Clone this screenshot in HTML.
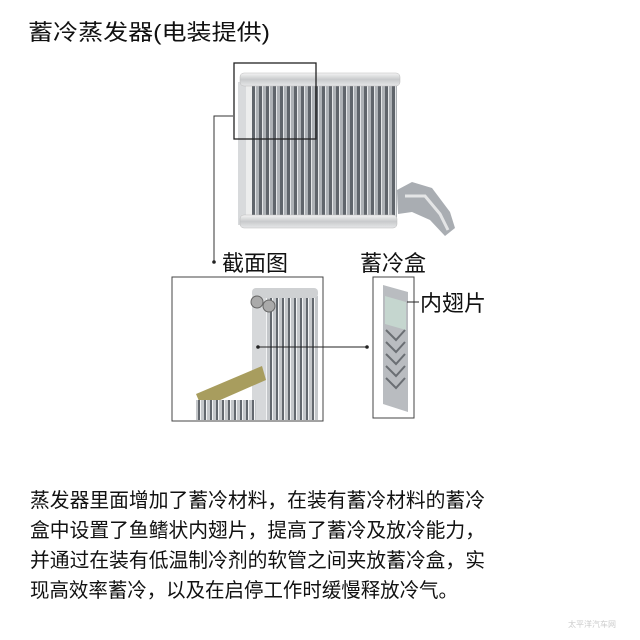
<!DOCTYPE html>
<html><head><meta charset="utf-8"><style>
html,body{margin:0;padding:0;background:#fff;}
svg{display:block;}
text{font-family:"Liberation Sans","Noto Sans CJK SC",sans-serif;fill:#111;}
</style></head><body>
<svg width="640" height="640" viewBox="0 0 640 640" xmlns="http://www.w3.org/2000/svg">
<defs>
<pattern id="fins" width="7" height="10" patternUnits="userSpaceOnUse">
<rect width="7" height="10" fill="#aeb2b6"/>
<rect x="0" width="3" height="10" fill="#60656b"/>
<rect x="3" width="1" height="10" fill="#e4e6e8"/>
</pattern>
<pattern id="fins2" width="6" height="10" patternUnits="userSpaceOnUse">
<rect width="6" height="10" fill="#c4c7ca"/>
<rect x="0" width="2" height="10" fill="#63686e"/>
<rect x="2" width="1" height="10" fill="#f2f3f4"/>
</pattern>
<linearGradient id="rail" x1="0" y1="0" x2="0" y2="1">
<stop offset="0" stop-color="#f4f4f4"/><stop offset="0.5" stop-color="#c8cacc"/><stop offset="1" stop-color="#e6e7e8"/>
</linearGradient>
</defs>

<text x="28" y="40" font-size="22" textLength="242" lengthAdjust="spacingAndGlyphs">蓄冷蒸发器(电装提供)</text>

<rect x="240" y="84" width="157" height="136" fill="url(#fins)"/>
<rect x="238" y="82" width="14" height="143" fill="#d8dadc"/>
<rect x="246" y="82" width="6" height="143" fill="#eceded"/>
<rect x="240" y="73" width="160" height="13" rx="4" fill="url(#rail)" stroke="#bbb" stroke-width="0.5"/>
<rect x="240" y="215" width="157" height="13" rx="4" fill="url(#rail)" stroke="#bbb" stroke-width="0.5"/>
<path d="M397 190 L412 182 L432 188 L450 212 L455 228 L445 236 L430 220 L412 212 L398 214 Z" fill="#a9adb2"/>
<path d="M405 196 L425 196 L440 214 L448 230" stroke="#e4e5e6" stroke-width="3" fill="none"/>
<rect x="234" y="63" width="82" height="76" fill="none" stroke="#222" stroke-width="1.3"/>
<polyline points="233,116 214,116 214,262" fill="none" stroke="#333" stroke-width="1"/>
<circle cx="214" cy="262" r="1.8" fill="#222"/>

<text x="222" y="271" font-size="22">截面图</text>
<text x="360" y="271" font-size="22">蓄冷盒</text>

<rect x="172" y="277" width="151" height="144" fill="#fff" stroke="#444" stroke-width="1"/>
<rect x="252" y="296" width="66" height="124" fill="url(#fins2)"/>
<rect x="252" y="296" width="14" height="124" fill="#d6d8da"/>
<rect x="252" y="288" width="66" height="10" rx="4" fill="#cfd1d3"/>
<circle cx="257" cy="302" r="6" fill="#aaa" stroke="#666"/>
<circle cx="269" cy="306" r="6" fill="#aaa" stroke="#666"/>
<path d="M196 394 L262 366 L266 380 L202 408 Z" fill="#a89d5e"/>
<rect x="196" y="400" width="60" height="20" fill="url(#fins2)"/>
<line x1="258" y1="347" x2="367" y2="347" stroke="#222" stroke-width="1"/>
<circle cx="258" cy="347" r="1.8" fill="#222"/>
<circle cx="367" cy="347" r="1.8" fill="#222"/>

<rect x="373" y="277" width="41" height="141" fill="#fff" stroke="#444" stroke-width="1"/>
<path d="M383 285 L408 292 L408 412 L383 404 Z" fill="#b9bcc0"/>
<path d="M385 296 L406 302 L406 330 L385 324 Z" fill="#c5d6cf"/>
<path d="M386 330 L396 340 L405 330 M386 342 L396 352 L405 342 M386 354 L396 364 L405 354 M386 366 L396 376 L405 366 M386 378 L396 388 L405 378" stroke="#6a6e73" stroke-width="2" fill="none"/>
<line x1="407" y1="302" x2="419" y2="302" stroke="#222" stroke-width="1"/>
<text x="420" y="311" font-size="22">内翅片</text>

<g font-size="20">
<text x="30" y="507" textLength="455" lengthAdjust="spacingAndGlyphs">蒸发器里面增加了蓄冷材料，在装有蓄冷材料的蓄冷</text>
<text x="30" y="537" textLength="455" lengthAdjust="spacingAndGlyphs">盒中设置了鱼鳍状内翅片，提高了蓄冷及放冷能力，</text>
<text x="30" y="567" textLength="455" lengthAdjust="spacingAndGlyphs">并通过在装有低温制冷剂的软管之间夹放蓄冷盒，实</text>
<text x="30" y="597" textLength="428" lengthAdjust="spacingAndGlyphs">现高效率蓄冷，以及在启停工作时缓慢释放冷气。</text>
</g>
<text x="568" y="627" font-size="8" style="fill:#ccc">太平洋汽车网</text>
</svg>
</body></html>
